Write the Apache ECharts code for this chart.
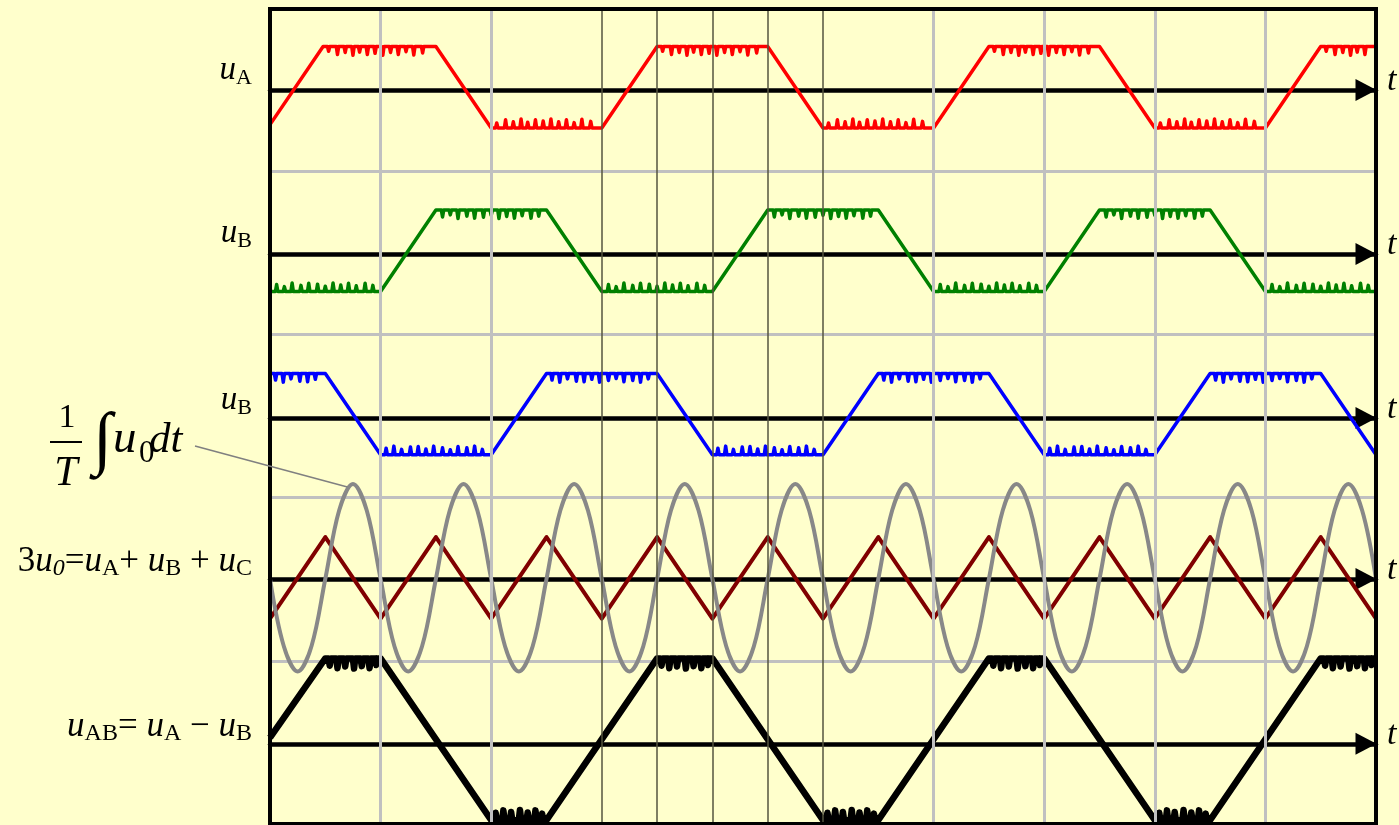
<!DOCTYPE html>
<html>
<head>
<meta charset="utf-8">
<title>Three-phase trapezoidal voltages and zero-sequence component</title>
<script src="https://cdn.jsdelivr.net/npm/echarts@6.0.0/dist/echarts.min.js"></script>
<style>
  html, body { margin: 0; padding: 0; background: #FFFFCC; }
  #chart { width: 1399px; height: 825px; }
</style>
</head>
<body>
<div id="chart"></div>
<script>
// Time axis is counted in grid divisions: one division = 120 electrical degrees.
// Waveform corner points [t, value]; value 1 is roughly one trapezoid amplitude.
const phaseA = [[0, -0.85], [0.48, 1.07], [1.5, 1.07], [2, -0.93], [3, -0.93], [3.5, 1.07], [4.5, 1.07],
  [5, -0.93], [6, -0.93], [6.5, 1.07], [7.5, 1.07], [8, -0.93], [9, -0.93], [9.5, 1.07], [10, 1.07]];
const phaseB = [[0, -0.92], [1, -0.92], [1.5, 1.08], [2.5, 1.08], [3, -0.92], [4, -0.92], [4.5, 1.08],
  [5.5, 1.08], [6, -0.92], [7, -0.92], [7.5, 1.08], [8.5, 1.08], [9, -0.92], [10, -0.92]];
const phaseC = [[0, 1.09], [0.5, 1.09], [1, -0.9], [2, -0.9], [2.5, 1.09], [3.5, 1.09], [4, -0.9],
  [5, -0.9], [5.5, 1.09], [6.5, 1.09], [7, -0.9], [8, -0.9], [8.5, 1.09], [9.5, 1.09], [10, -0.9]];
// 3u0 = uA + uB + uC : triangle at three times the fundamental frequency
const zeroSeq3 = [[0, -0.97], [0.5, 1.03], [1, -0.97], [1.5, 1.03], [2, -0.97], [2.5, 1.03], [3, -0.97],
  [3.5, 1.03], [4, -0.97], [4.5, 1.03], [5, -0.97], [5.5, 1.03], [6, -0.97], [6.5, 1.03], [7, -0.97],
  [7.5, 1.03], [8, -0.97], [8.5, 1.03], [9, -0.97], [9.5, 1.03], [10, -0.97]];
// (1/T)∫u0 dt sampled every 0.125 division
const integralStep = 0.125;
const integralU0 = [
  0, -1.65, -2.27, -1.65, 0, 1.68, 2.33, 1.68,
  0, -1.65, -2.27, -1.65, 0, 1.68, 2.33, 1.68,
  0, -1.65, -2.27, -1.65, 0, 1.68, 2.33, 1.68,
  0, -1.65, -2.27, -1.65, 0, 1.68, 2.33, 1.68,
  0, -1.65, -2.27, -1.65, 0, 1.68, 2.33, 1.68,
  0, -1.65, -2.27, -1.65, 0, 1.68, 2.33, 1.68,
  0, -1.65, -2.27, -1.65, 0, 1.68, 2.33, 1.68,
  0, -1.65, -2.27, -1.65, 0, 1.68, 2.33, 1.68,
  0, -1.65, -2.27, -1.65, 0, 1.68, 2.33, 1.68,
  0, -1.65, -2.27, -1.65, 0, 1.68, 2.33, 1.68,
  0];
// line voltage uAB = uA - uB
const lineAB = [[0, 0.15], [0.5, 2.1], [1, 2.1], [2, -1.88], [2.5, -1.88], [3.5, 2.1], [4, 2.1],
  [5, -1.88], [5.5, -1.88], [6.5, 2.1], [7, 2.1], [8, -1.88], [8.5, -1.88], [9.5, 2.1], [10, 2.1]];

// PWM ripple notches on the flat parts: [offset from start of flat, depth toward zero]
const rippleA = [[0.05, 0.12], [0.13, 0.2], [0.2, 0.15], [0.27, 0.22], [0.33, 0.14], [0.4, 0.2], [0.47, 0.17],
  [0.54, 0.22], [0.61, 0.15], [0.68, 0.2], [0.75, 0.13], [0.82, 0.21], [0.9, 0.16]];
const rippleB = [[0.06, 0.17], [0.13, 0.12], [0.2, 0.21], [0.28, 0.15], [0.35, 0.2], [0.43, 0.18], [0.5, 0.13],
  [0.57, 0.21], [0.64, 0.16], [0.71, 0.2], [0.78, 0.14], [0.86, 0.2], [0.93, 0.15]];
const rippleC = [[0.05, 0.16], [0.12, 0.21], [0.19, 0.13], [0.27, 0.19], [0.34, 0.2], [0.41, 0.14], [0.48, 0.21],
  [0.56, 0.17], [0.63, 0.12], [0.7, 0.2], [0.78, 0.17], [0.85, 0.21], [0.92, 0.13]];
const rippleAB = [[0.04, 0.18], [0.11, 0.24], [0.18, 0.2], [0.26, 0.25], [0.33, 0.19], [0.4, 0.24], [0.46, 0.16]];

// vertical reference lines
const gridLinesT = [1, 2, 6, 7, 8, 9];
const fineLinesT = [3, 3.5, 4, 4.5, 5];
// point of the integral curve that the formula's leader line touches
const leaderTarget = [0.7, 2.26];

// ---- layout ----
const PLOT_LEFT = 270, PLOT_WIDTH = 1106, FRAME_TOP = 8, FRAME_HEIGHT = 816;
const BAND_AXIS_Y = [90, 254, 418, 579, 744];
const BAND_HALF = 81.5;
const LABEL_BOTTOM = [89, 252, 419, 581, 746];
const LABEL_RIGHT = 252;
const SERIF = '"Liberation Serif", "Times New Roman", serif';
const NOTCH_HALF = 0.011;

function withRipple(corners, ripple) {
  const out = [];
  for (let i = 0; i < corners.length; i++) {
    const p = corners[i];
    out.push(p);
    const q = corners[i + 1];
    if (q && q[1] === p[1]) {
      const s = p[1] > 0 ? 1 : -1;
      const len = q[0] - p[0];
      ripple.forEach(function (r) {
        if (r[0] < len - 0.03) {
          const t = p[0] + r[0];
          out.push([t - NOTCH_HALF, p[1]], [t, p[1] - s * r[1]], [t + NOTCH_HALF, p[1]]);
        }
      });
    }
  }
  return out;
}

const chart = echarts.init(document.getElementById('chart'), null, { renderer: 'canvas' });

const grids = [{
  left: PLOT_LEFT, top: FRAME_TOP + 1, width: PLOT_WIDTH, height: FRAME_HEIGHT - 1,
  show: true, backgroundColor: 'transparent', borderColor: '#000', borderWidth: 4, z: 6
}, {
  left: PLOT_LEFT, top: FRAME_TOP, width: PLOT_WIDTH, height: FRAME_HEIGHT
}];
const xAxes = [
  { gridIndex: 0, type: 'value', min: 0, max: 10, show: false },
  { gridIndex: 1, type: 'value', min: 0, max: 10, show: false }
];
const yAxes = [
  { gridIndex: 0, type: 'value', min: 0, max: 5, show: false },
  {
    gridIndex: 1, type: 'value', min: 0, max: 5, interval: 1,
    axisLine: { show: false }, axisTick: { show: false }, axisLabel: { show: false },
    splitLine: { show: true, lineStyle: { color: '#C0C0C0', width: 3 } }, z: 0
  }
];
const BAND0 = 2;  // index of the first band grid / axes
BAND_AXIS_Y.forEach(function (y, i) {
  grids.push({ left: PLOT_LEFT, width: PLOT_WIDTH, top: y - BAND_HALF, height: BAND_HALF * 2 });
  xAxes.push({
    gridIndex: BAND0 + i, type: 'value', min: 0, max: 10, z: 2,
    axisLine: {
      show: true, onZero: true, symbol: ['none', 'triangle'], symbolSize: [22, 21], symbolOffset: [0, -10],
      lineStyle: { color: '#000', width: 4.5 }
    },
    axisTick: { show: false }, axisLabel: { show: false }, splitLine: { show: false },
    name: 't', nameLocation: 'end', nameGap: 11,
    nameTextStyle: {
      fontFamily: SERIF, fontStyle: 'italic', fontSize: 34, color: '#000',
      verticalAlign: 'bottom', lineHeight: 18
    }
  });
  yAxes.push({
    gridIndex: BAND0 + i, type: 'value', min: -2, max: 2,
    axisLine: { show: false }, axisTick: { show: false }, axisLabel: { show: false }, splitLine: { show: false }
  });
});

function wave(band, data, color, width, z, extra) {
  return Object.assign({
    type: 'line', xAxisIndex: BAND0 + band, yAxisIndex: BAND0 + band, data: data,
    showSymbol: false, symbol: 'none', clip: false, silent: true, z: z,
    lineStyle: { color: color, width: width, join: 'round' }
  }, extra || {});
}

const integralData = integralU0.map(function (v, i) { return [i * integralStep, v]; });

const markLineData = gridLinesT.map(function (t) {
  return { xAxis: t, lineStyle: { color: '#C0C0C0', width: 3, type: 'solid' } };
}).concat(fineLinesT.map(function (t) {
  return { xAxis: t, lineStyle: { color: '#55553f', width: 1.5, type: 'solid' } };
}));

chart.setOption({
  backgroundColor: '#FFFFCC',
  animation: false,
  grid: grids,
  xAxis: xAxes,
  yAxis: yAxes,
  series: [
    {
      type: 'line', xAxisIndex: 1, yAxisIndex: 1, data: [], silent: true, z: 1,
      markLine: { symbol: ['none', 'none'], silent: true, label: { show: false }, animation: false, data: markLineData }
    },
    wave(0, withRipple(phaseA, rippleA), '#FF0000', 3.5, 3),
    wave(1, withRipple(phaseB, rippleB), '#008000', 3.5, 3),
    wave(2, withRipple(phaseC, rippleC), '#0000FF', 3.5, 3),
    wave(3, zeroSeq3, '#800000', 4, 3),
    wave(3, integralData, '#888888', 4, 4, { smooth: 0.35 }),
    wave(4, withRipple(lineAB, rippleAB), '#000000', 6.5, 3)
  ]
});

// ---- left-hand labels and the integral formula ----
function richStyles(main, sub) {
  return {
    n: { fontFamily: SERIF, fontSize: main, lineHeight: main + 4, fill: '#000' },
    u: { fontFamily: SERIF, fontStyle: 'italic', fontSize: main, lineHeight: main + 4, fill: '#000' },
    s: { fontFamily: SERIF, fontSize: sub, verticalAlign: 'bottom', fill: '#000' },
    si: { fontFamily: SERIF, fontStyle: 'italic', fontSize: sub, verticalAlign: 'bottom', fill: '#000' }
  };
}
const bandLabels = [
  { text: '{u|u}{s|A}', main: 33, sub: 22 },
  { text: '{u|u}{s|B}', main: 33, sub: 22 },
  { text: '{u|u}{s|B}', main: 33, sub: 22 },
  { text: '{n|3}{u|u}{si|0}{n|=}{u|u}{s|A}{n|+ }{u|u}{s|B}{n| + }{u|u}{s|C}', main: 35, sub: 24 },
  { text: '{u|u}{s|AB}{n|= }{u|u}{s|A}{n| \u2212 }{u|u}{s|B}', main: 35, sub: 24 }
];
const graphics = bandLabels.map(function (lab, i) {
  return {
    type: 'text', x: LABEL_RIGHT, y: LABEL_BOTTOM[i], silent: true,
    style: { text: lab.text, rich: richStyles(lab.main, lab.sub), align: 'right', verticalAlign: 'bottom' }
  };
});

function plain(text, x, y, size, italic, align) {
  return {
    type: 'text', x: x, y: y, silent: true,
    style: {
      text: text, fontFamily: SERIF, fontSize: size, fontStyle: italic ? 'italic' : 'normal',
      fill: '#000', align: align || 'left', verticalAlign: 'middle'
    }
  };
}
graphics.push(
  plain('1', 67, 418, 34, false, 'center'),
  { type: 'line', silent: true, shape: { x1: 50, y1: 442, x2: 82, y2: 442 }, style: { stroke: '#000', lineWidth: 2 } },
  plain('T', 66, 474, 42, true, 'center'),
  plain('\u222B', 93, 443, 70, false, 'left'),
  plain('u', 113, 440, 47, true, 'left'),
  plain('0', 139, 454, 31, false, 'left'),
  plain('dt', 149, 441, 43, true, 'left')
);

const leaderEnd = chart.convertToPixel({ gridIndex: BAND0 + 3 }, leaderTarget);
graphics.push({
  type: 'line', silent: true, z: 10,
  shape: { x1: 195, y1: 446, x2: leaderEnd[0], y2: leaderEnd[1] },
  style: { stroke: '#808080', lineWidth: 1.6 }
});

chart.setOption({ graphic: graphics });
</script>
</body>
</html>
